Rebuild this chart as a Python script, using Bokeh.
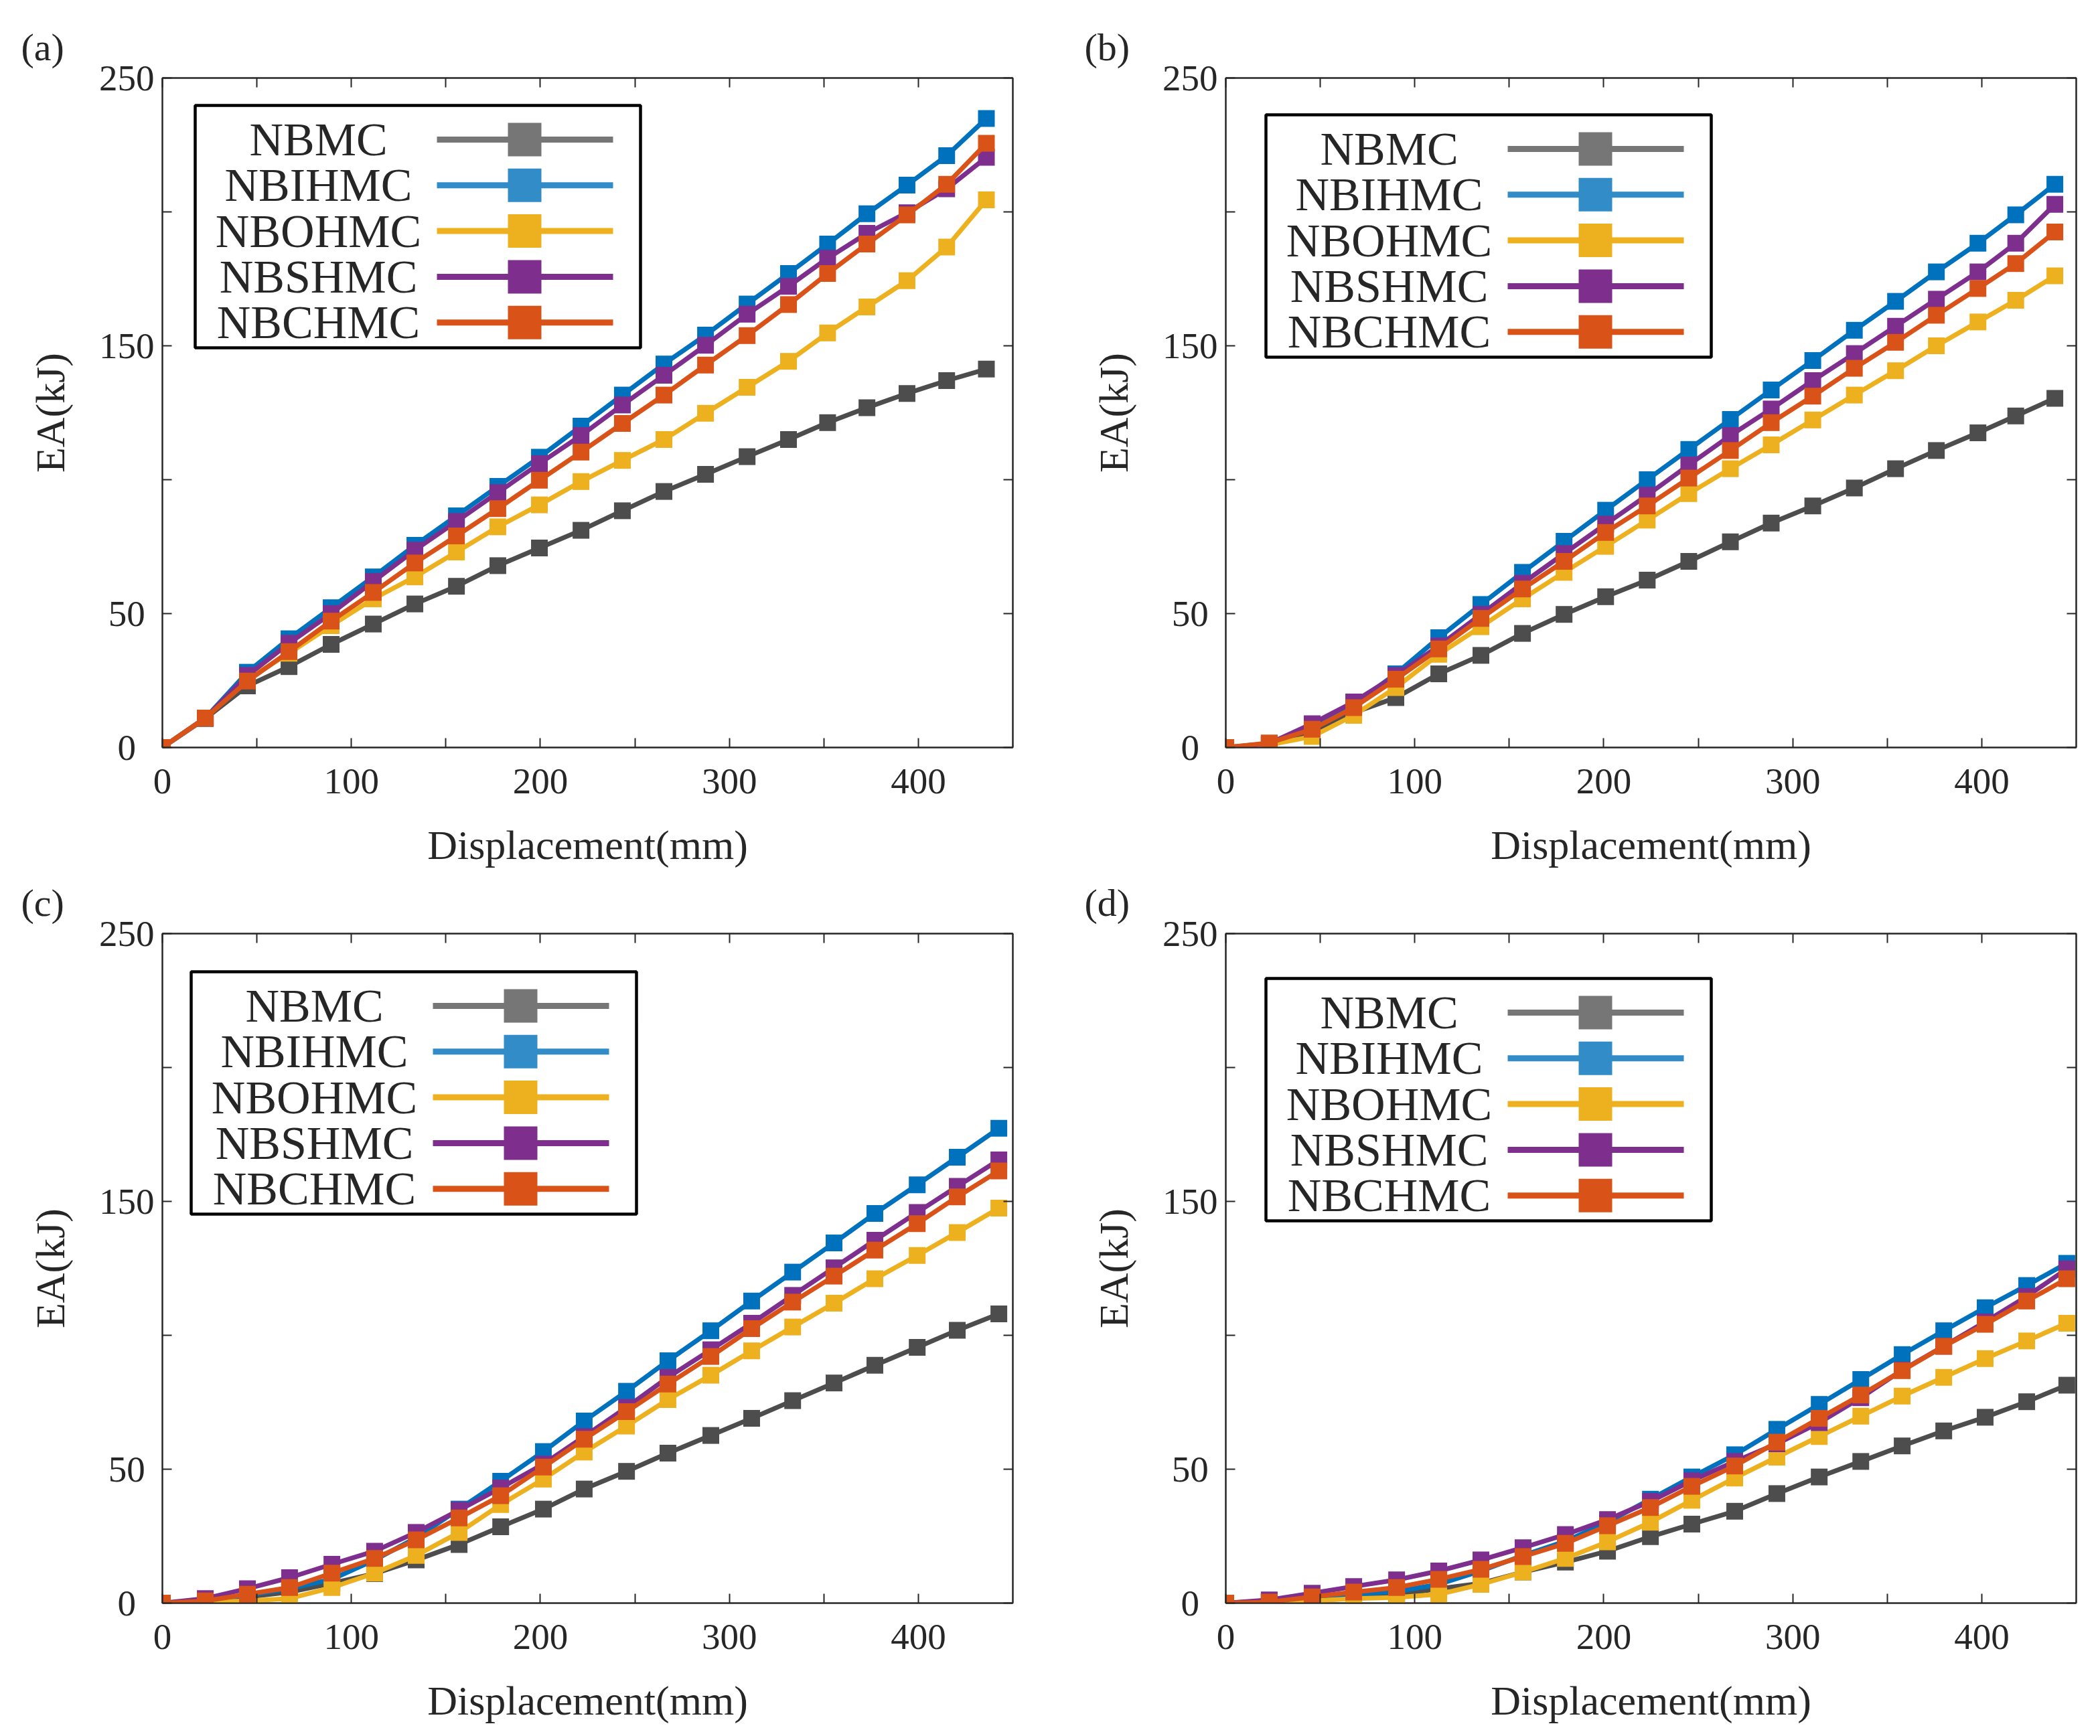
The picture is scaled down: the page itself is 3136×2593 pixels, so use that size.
from bokeh.plotting import figure
from bokeh.models import Range1d, FixedTicker, LinearAxis
from bokeh.layouts import column, row
from bokeh.embed import file_html
from bokeh.resources import INLINE
from bokeh.core.properties import value

# ---------------- data ----------------
SERIES = ["NBMC", "NBIHMC", "NBOHMC", "NBSHMC", "NBCHMC"]
LINE_COLORS = ["#4d4d4d", "#0072bd", "#edb120", "#7e2f8e", "#d95319"]
LEGEND_COLORS = ["#767676", "#318cc8", "#edb120", "#7e2f8e", "#d95319"]

X_TICKS = [0, 100, 200, 300, 400]
X_MINOR = [50, 150, 250, 350]
Y_TICKS = [0, 50, 150, 250]
Y_MINOR = [100, 200]
Y_LABELS = {0: "0\u2007", 50: "50\u2005", 150: "150", 250: "250"}

# panel (a)
x_a = [0, 22.7, 45.0, 67.0, 89.3, 111.6, 133.6, 155.6, 177.5, 199.5, 221.5,
       243.4, 265.4, 287.4, 309.4, 331.3, 352.0, 372.8, 394.0, 415.0, 436.0]
a_nbmc = [0, 10.8, 23.0, 30.2, 38.5, 46.1, 53.6, 60.2, 67.9, 74.5, 81.1,
          88.4, 95.6, 102.0, 108.6, 115.0, 121.3, 126.9, 132.2, 137.0, 141.3]
a_nbihmc = [0, 11.0, 28.1, 40.6, 52.2, 63.7, 75.5, 86.5, 97.5, 108.4, 120.0,
            131.6, 143.2, 154.0, 165.6, 177.0, 188.0, 199.3, 210.0, 221.0, 234.9]
a_nbohmc = [0, 11.0, 25.5, 35.2, 45.5, 55.5, 63.7, 73.0, 82.4, 90.6, 99.3,
            107.2, 115.0, 124.8, 134.5, 144.2, 154.8, 164.5, 174.3, 186.9, 204.5]
a_nbshmc = [0, 11.0, 26.9, 38.9, 50.0, 62.0, 73.7, 84.4, 95.2, 106.0, 116.5,
            127.9, 139.0, 150.2, 161.8, 172.2, 182.7, 192.0, 199.7, 208.6, 220.4]
a_nbchmc = [0, 11.0, 24.8, 35.8, 47.2, 57.9, 68.9, 79.0, 89.2, 99.8, 110.3,
            121.0, 131.6, 142.8, 153.8, 165.4, 177.0, 188.0, 198.9, 210.3, 225.6]

# panel (b)
x_b = [0, 23.0, 45.7, 67.7, 90.0, 112.7, 135.0, 157.0, 179.0, 201.0, 223.0,
       245.0, 267.0, 288.6, 310.6, 332.6, 354.4, 376.0, 398.0, 418.0, 438.7]
b_nbmc = [0, 1.0, 6.2, 13.0, 18.6, 27.5, 34.4, 42.6, 49.7, 56.3, 62.5,
          69.5, 76.8, 83.8, 90.2, 96.9, 104.1, 110.9, 117.5, 123.8, 130.4]
b_nbihmc = [0, 1.0, 7.9, 16.1, 27.5, 41.0, 53.4, 65.4, 77.0, 88.6, 100.0,
            111.3, 122.5, 133.5, 144.5, 155.8, 166.6, 177.6, 188.3, 198.9, 210.3]
b_nbohmc = [0, 1.0, 4.1, 12.0, 22.4, 34.8, 45.1, 55.5, 65.4, 75.1, 84.9,
            94.8, 104.1, 113.0, 122.3, 131.6, 140.7, 150.0, 158.9, 167.0, 176.1]
b_nbshmc = [0, 1.5, 8.9, 17.0, 26.9, 37.9, 49.7, 61.3, 72.4, 83.4, 94.2,
            105.5, 116.5, 126.4, 137.0, 147.1, 157.3, 167.4, 177.6, 188.3, 202.8]
b_nbchmc = [0, 1.7, 6.8, 14.9, 25.5, 36.8, 48.2, 59.2, 69.5, 80.3, 90.2,
            100.6, 110.9, 121.3, 131.2, 141.6, 151.3, 161.4, 171.4, 180.7, 192.5]

# panel (c)
x_c = [0, 22.7, 45.0, 67.3, 89.7, 112.3, 134.3, 157.0, 179.0, 201.6, 223.2,
       245.6, 267.5, 290.2, 311.8, 333.5, 355.4, 377.0, 399.4, 420.6, 442.6]
c_nbmc = [0, 0.8, 2.3, 4.1, 7.4, 11.0, 16.1, 21.9, 28.5, 35.1, 42.6,
          49.2, 56.0, 62.6, 69.0, 75.6, 82.2, 88.8, 95.5, 101.9, 108.0]
c_nbihmc = [0, 0.8, 2.9, 5.4, 8.9, 16.1, 24.4, 35.1, 45.5, 56.6, 68.0,
            79.1, 90.5, 101.7, 112.8, 123.6, 134.5, 145.5, 156.2, 166.5, 177.3]
c_nbohmc = [0, 0.4, 0.8, 1.7, 5.8, 11.2, 17.8, 26.4, 36.8, 46.3, 56.4,
            66.1, 76.0, 85.1, 94.2, 103.1, 112.0, 121.1, 129.8, 138.4, 147.5]
c_nbshmc = [0, 1.7, 5.4, 9.5, 14.5, 19.4, 26.4, 34.7, 43.0, 51.9, 62.2,
            73.1, 84.3, 94.6, 104.5, 114.9, 125.2, 135.5, 145.9, 155.6, 165.5]
c_nbchmc = [0, 0.8, 3.3, 5.8, 11.2, 16.7, 23.6, 31.8, 40.1, 50.8, 61.2,
            71.5, 81.8, 92.1, 102.5, 112.4, 122.1, 131.8, 141.7, 151.7, 161.4]

# panel (d)
x_d = [0, 23.0, 45.7, 67.7, 90.4, 112.7, 135.0, 157.3, 179.7, 202.0, 224.7,
       246.6, 269.3, 291.6, 314.0, 336.0, 357.9, 379.9, 401.8, 423.8, 445.0]
d_nbmc = [0, 0.4, 1.2, 1.7, 2.9, 5.4, 7.4, 11.6, 15.3, 19.4, 24.8,
          29.5, 34.3, 40.9, 47.1, 52.9, 58.7, 64.3, 69.4, 75.2, 81.4]
d_nbihmc = [0, 0.8, 2.1, 3.3, 4.3, 7.0, 12.0, 17.8, 23.1, 30.2, 38.8,
            47.1, 55.4, 64.9, 74.2, 83.5, 92.8, 101.7, 110.3, 118.6, 126.9]
d_nbohmc = [0, 0.0, 0.8, 1.7, 2.1, 3.3, 7.0, 11.6, 16.7, 22.9, 30.2,
            38.4, 46.7, 54.5, 62.2, 69.8, 77.3, 84.3, 91.3, 97.9, 104.5]
d_nbshmc = [0, 1.2, 3.7, 6.2, 8.7, 12.0, 16.1, 20.7, 25.6, 31.2, 38.0,
            45.7, 52.9, 59.5, 67.4, 76.7, 87.0, 95.9, 105.0, 114.5, 124.8]
d_nbchmc = [0, 0.4, 2.3, 4.1, 5.8, 8.9, 12.6, 17.4, 22.3, 28.9, 35.7,
            43.6, 51.2, 60.1, 69.0, 77.7, 86.8, 95.9, 104.1, 112.8, 121.1]

# ---------------- style ----------------
FONT = "Liberation Serif"
TXT = "#262626"
AX = "#262626"
FW, FH = 1270, 1000          # frame size in px
LEG_W, LEG_H = 665, 362      # legend box size in px


def style_axis(ax):
    ax.axis_line_color = AX
    ax.axis_line_width = 2
    ax.major_tick_in = 14
    ax.major_tick_out = 0
    ax.minor_tick_in = 14
    ax.minor_tick_out = 0
    ax.major_tick_line_color = AX
    ax.major_tick_line_width = 2
    ax.minor_tick_line_color = AX
    ax.minor_tick_line_width = 2
    ax.major_label_text_font = FONT
    ax.major_label_text_font_size = "55px"
    ax.major_label_text_color = TXT
    ax.axis_label_text_font = FONT
    ax.axis_label_text_font_size = "62px"
    ax.axis_label_text_font_style = "normal"
    ax.axis_label_text_color = TXT


def make_panel(tag, xs, ys_list, leg_left, leg_top, width, height,
               bl, br, bt, bb):
    p = figure(width=width, height=height,
               x_range=Range1d(0, 450), y_range=Range1d(0, 250),
               output_backend="svg", toolbar_location=None,
               min_border_left=bl, min_border_right=br,
               min_border_top=bt, min_border_bottom=bb,
               x_axis_label="Displacement(mm)", y_axis_label="EA(kJ)",
               title=tag)
    p.title.align = "left"
    p.title.offset = -211
    p.title.standoff = 28
    p.title.text_font = FONT
    p.title.text_font_size = "58px"
    p.title.text_font_style = "normal"
    p.title.text_color = TXT

    p.xgrid.visible = False
    p.ygrid.visible = False
    p.outline_line_color = AX
    p.outline_line_width = 2
    p.background_fill_color = "white"

    xa = p.xaxis[0]
    ya = p.yaxis[0]
    xa.ticker = FixedTicker(ticks=X_TICKS, minor_ticks=X_MINOR)
    ya.ticker = FixedTicker(ticks=Y_TICKS, minor_ticks=Y_MINOR)
    ya.major_label_overrides = Y_LABELS
    style_axis(xa)
    style_axis(ya)
    xa.major_label_standoff = 32
    xa.axis_label_standoff = 40
    ya.major_label_standoff = 12
    ya.axis_label_standoff = 36

    top = LinearAxis(ticker=FixedTicker(ticks=[], minor_ticks=X_TICKS + X_MINOR))
    right = LinearAxis(ticker=FixedTicker(ticks=[], minor_ticks=Y_TICKS + Y_MINOR))
    for ax in (top, right):
        style_axis(ax)
        ax.major_label_standoff = 0
        ax.axis_label_standoff = 0
    p.add_layout(top, "above")
    p.add_layout(right, "right")

    for ys, c in zip(ys_list, LINE_COLORS):
        p.line(xs, ys, line_color=c, line_width=7, line_join="round")
        p.scatter(xs, ys, marker="square", size=25, fill_color=c, line_color=None)

    # legend drawn in pixel space of the frame
    p.extra_x_ranges = {"px": Range1d(0, FW)}
    p.extra_y_ranges = {"py": Range1d(FH, 0)}
    rows = [leg_top + 51 + 68.3 * i for i in range(len(SERIES))]
    p.quad(left=[leg_left], right=[leg_left + LEG_W], top=[leg_top], bottom=[leg_top + LEG_H],
           x_range_name="px", y_range_name="py",
           fill_color="white", line_color="black", line_width=4.5)
    p.segment(x0=[leg_left + 361] * 5, x1=[leg_left + 624] * 5, y0=rows, y1=rows,
              line_color=LEGEND_COLORS, line_width=9,
              x_range_name="px", y_range_name="py")
    p.scatter(x=[leg_left + 492] * 5, y=rows, marker="square", size=50,
              fill_color=LEGEND_COLORS, line_color=None,
              x_range_name="px", y_range_name="py")
    p.text(x=[leg_left + 184] * 5, y=rows, text=SERIES,
           text_font=value(FONT), text_font_size="70px", text_color=TXT,
           text_align="center", text_baseline="middle",
           x_range_name="px", y_range_name="py")
    return p


pa = make_panel("(a)", x_a, [a_nbmc, a_nbihmc, a_nbohmc, a_nbshmc, a_nbchmc],
                49, 41, 1596, 1298, 242, 84, 116, 182)
pb = make_panel("(b)", x_b, [b_nbmc, b_nbihmc, b_nbohmc, b_nbshmc, b_nbchmc],
                60, 55, 1524, 1298, 234, 20, 116, 182)
pc = make_panel("(c)", x_c, [c_nbmc, c_nbihmc, c_nbohmc, c_nbshmc, c_nbchmc],
                43, 57, 1596, 1278, 242, 84, 96, 182)
pd = make_panel("(d)", x_d, [d_nbmc, d_nbihmc, d_nbohmc, d_nbshmc, d_nbchmc],
                60, 67, 1524, 1278, 234, 20, 96, 182)

layout = column(row(pa, pb), row(pc, pd))
open("out.html", "w").write(file_html(layout, INLINE))
